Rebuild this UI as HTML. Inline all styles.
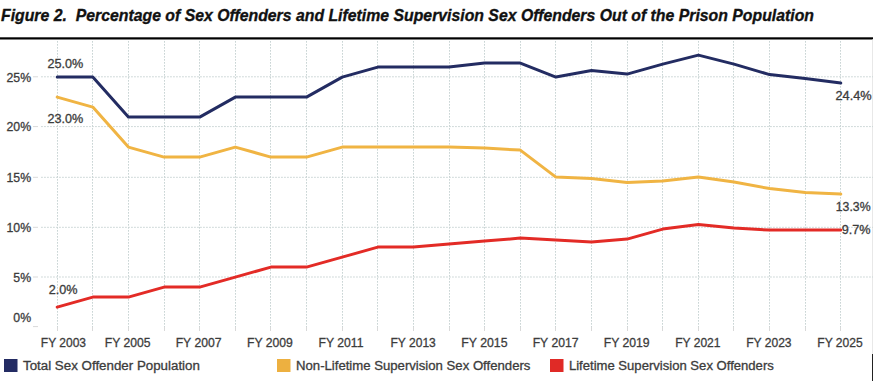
<!DOCTYPE html>
<html><head><meta charset="utf-8"><style>
html,body{margin:0;padding:0;background:#fff;}
body{width:873px;height:381px;overflow:hidden;position:relative;}
svg{position:absolute;left:0;top:0;}
text{font-family:"Liberation Sans",sans-serif;}
.ti{font-weight:bold;font-style:italic;font-size:17px;fill:#111;stroke:#111;stroke-width:0.35;}
.ax{font-size:12.3px;fill:#3c3c3c;stroke:#3c3c3c;stroke-width:0.3;}
.dl{font-size:12px;fill:#3c3c3c;stroke:#3c3c3c;stroke-width:0.3;}
.lg{font-size:12.5px;fill:#3c3c3c;stroke:#3c3c3c;stroke-width:0.3;}
.g{stroke:#CAD5D5;stroke-width:1;stroke-dasharray:1.7 1.3;}
.t{stroke:#D9D9D9;stroke-width:1;}
.s{fill:none;stroke-width:3;stroke-linejoin:round;stroke-linecap:round;}
</style></head><body>
<svg width="873" height="381" viewBox="0 0 873 381">
<text x="1" y="20.5" textLength="813" lengthAdjust="spacingAndGlyphs" class="ti">Figure 2.&#160; Percentage of Sex Offenders and Lifetime Supervision Sex Offenders Out of the Prison Population</text>
<rect x="0" y="37.3" width="873" height="2.2" fill="#000"/>
<rect x="872" y="39.5" width="1" height="314.5" fill="#E8E8E8"/><rect x="872" y="354" width="1" height="27" fill="#222"/>
<line x1="57.5" y1="41" x2="57.5" y2="327" class="g"/><line x1="57.5" y1="327" x2="57.5" y2="331" class="t"/><line x1="92.5" y1="41" x2="92.5" y2="327" class="g"/><line x1="92.5" y1="327" x2="92.5" y2="331" class="t"/><line x1="128.5" y1="41" x2="128.5" y2="327" class="g"/><line x1="128.5" y1="327" x2="128.5" y2="331" class="t"/><line x1="164.5" y1="41" x2="164.5" y2="327" class="g"/><line x1="164.5" y1="327" x2="164.5" y2="331" class="t"/><line x1="199.5" y1="41" x2="199.5" y2="327" class="g"/><line x1="199.5" y1="327" x2="199.5" y2="331" class="t"/><line x1="235.5" y1="41" x2="235.5" y2="327" class="g"/><line x1="235.5" y1="327" x2="235.5" y2="331" class="t"/><line x1="270.5" y1="41" x2="270.5" y2="327" class="g"/><line x1="270.5" y1="327" x2="270.5" y2="331" class="t"/><line x1="306.5" y1="41" x2="306.5" y2="327" class="g"/><line x1="306.5" y1="327" x2="306.5" y2="331" class="t"/><line x1="342.5" y1="41" x2="342.5" y2="327" class="g"/><line x1="342.5" y1="327" x2="342.5" y2="331" class="t"/><line x1="377.5" y1="41" x2="377.5" y2="327" class="g"/><line x1="377.5" y1="327" x2="377.5" y2="331" class="t"/><line x1="413.5" y1="41" x2="413.5" y2="327" class="g"/><line x1="413.5" y1="327" x2="413.5" y2="331" class="t"/><line x1="449.5" y1="41" x2="449.5" y2="327" class="g"/><line x1="449.5" y1="327" x2="449.5" y2="331" class="t"/><line x1="484.5" y1="41" x2="484.5" y2="327" class="g"/><line x1="484.5" y1="327" x2="484.5" y2="331" class="t"/><line x1="520.5" y1="41" x2="520.5" y2="327" class="g"/><line x1="520.5" y1="327" x2="520.5" y2="331" class="t"/><line x1="555.5" y1="41" x2="555.5" y2="327" class="g"/><line x1="555.5" y1="327" x2="555.5" y2="331" class="t"/><line x1="591.5" y1="41" x2="591.5" y2="327" class="g"/><line x1="591.5" y1="327" x2="591.5" y2="331" class="t"/><line x1="627.5" y1="41" x2="627.5" y2="327" class="g"/><line x1="627.5" y1="327" x2="627.5" y2="331" class="t"/><line x1="662.5" y1="41" x2="662.5" y2="327" class="g"/><line x1="662.5" y1="327" x2="662.5" y2="331" class="t"/><line x1="698.5" y1="41" x2="698.5" y2="327" class="g"/><line x1="698.5" y1="327" x2="698.5" y2="331" class="t"/><line x1="733.5" y1="41" x2="733.5" y2="327" class="g"/><line x1="733.5" y1="327" x2="733.5" y2="331" class="t"/><line x1="769.5" y1="41" x2="769.5" y2="327" class="g"/><line x1="769.5" y1="327" x2="769.5" y2="331" class="t"/><line x1="805.5" y1="41" x2="805.5" y2="327" class="g"/><line x1="805.5" y1="327" x2="805.5" y2="331" class="t"/><line x1="840.5" y1="41" x2="840.5" y2="327" class="g"/><line x1="840.5" y1="327" x2="840.5" y2="331" class="t"/><line x1="41.1" y1="76.8" x2="873" y2="76.8" class="g"/><line x1="33" y1="76.8" x2="38" y2="76.8" class="t"/><line x1="41.1" y1="126.6" x2="873" y2="126.6" class="g"/><line x1="33" y1="126.6" x2="38" y2="126.6" class="t"/><line x1="41.1" y1="177.3" x2="873" y2="177.3" class="g"/><line x1="33" y1="177.3" x2="38" y2="177.3" class="t"/><line x1="41.1" y1="227.3" x2="873" y2="227.3" class="g"/><line x1="33" y1="227.3" x2="38" y2="227.3" class="t"/><line x1="41.1" y1="277.0" x2="873" y2="277.0" class="g"/><line x1="33" y1="277.0" x2="38" y2="277.0" class="t"/><line x1="33" y1="326.6" x2="38" y2="326.6" class="t"/>
<text x="31.1" y="81.6" text-anchor="end" class="ax">25%</text><text x="31.1" y="131.4" text-anchor="end" class="ax">20%</text><text x="31.1" y="182" text-anchor="end" class="ax">15%</text><text x="31.1" y="232.1" text-anchor="end" class="ax">10%</text><text x="31.1" y="281.7" text-anchor="end" class="ax">5%</text><text x="31.1" y="321.6" text-anchor="end" class="ax">0%</text>
<text x="40.8" y="347.1" textLength="45.2" lengthAdjust="spacingAndGlyphs" class="ax">FY 2003</text><text x="104.8" y="347.1" textLength="45.7" lengthAdjust="spacingAndGlyphs" class="ax">FY 2005</text><text x="175.7" y="347.1" textLength="45.8" lengthAdjust="spacingAndGlyphs" class="ax">FY 2007</text><text x="247.1" y="347.1" textLength="45.8" lengthAdjust="spacingAndGlyphs" class="ax">FY 2009</text><text x="318.6" y="347.1" textLength="44.9" lengthAdjust="spacingAndGlyphs" class="ax">FY 2011</text><text x="390.5" y="347.1" textLength="45.3" lengthAdjust="spacingAndGlyphs" class="ax">FY 2013</text><text x="461.3" y="347.1" textLength="46.2" lengthAdjust="spacingAndGlyphs" class="ax">FY 2015</text><text x="532.7" y="347.1" textLength="45.8" lengthAdjust="spacingAndGlyphs" class="ax">FY 2017</text><text x="603.7" y="347.1" textLength="45.9" lengthAdjust="spacingAndGlyphs" class="ax">FY 2019</text><text x="675.2" y="347.1" textLength="45.3" lengthAdjust="spacingAndGlyphs" class="ax">FY 2021</text><text x="746.2" y="347.1" textLength="45.4" lengthAdjust="spacingAndGlyphs" class="ax">FY 2023</text><text x="817.3" y="347.1" textLength="45.4" lengthAdjust="spacingAndGlyphs" class="ax">FY 2025</text>
<polyline class="s" stroke="#F0B443" points="57.2,97.1 92.8,107.1 128.4,147.1 164.1,157.1 199.7,157.1 235.3,147.1 270.9,157.1 306.5,157.1 342.2,147.1 377.8,147.1 413.4,147.1 449.0,147.1 484.6,148.1 520.3,150.1 555.9,177.1 591.5,178.6 627.1,182.6 662.7,181.1 698.4,177.1 734.0,182.1 769.6,188.6 805.2,192.6 840.8,194.1"/>
<polyline class="s" stroke="#E32B26" points="57.2,307.1 92.8,297.1 128.4,297.1 164.1,287.1 199.7,287.1 235.3,277.1 270.9,267.1 306.5,267.1 342.2,257.1 377.8,247.1 413.4,247.1 449.0,244.1 484.6,241.1 520.3,238.1 555.9,240.1 591.5,242.1 627.1,239.1 662.7,229.1 698.4,224.6 734.0,228.1 769.6,230.1 805.2,230.1 840.8,230.1"/>
<polyline class="s" stroke="#232C62" points="57.2,77.1 92.8,77.1 128.4,117.1 164.1,117.1 199.7,117.1 235.3,97.1 270.9,97.1 306.5,97.1 342.2,77.1 377.8,67.1 413.4,67.1 449.0,67.1 484.6,63.1 520.3,63.1 555.9,77.1 591.5,70.6 627.1,74.1 662.7,64.1 698.4,55.1 734.0,64.1 769.6,74.6 805.2,78.6 840.8,83.1"/>
<text x="47.5" y="68" textLength="35.8" lengthAdjust="spacingAndGlyphs" class="dl">25.0%</text><text x="47.5" y="122.5" textLength="35.8" lengthAdjust="spacingAndGlyphs" class="dl">23.0%</text><text x="48.7" y="293.8" textLength="28.8" lengthAdjust="spacingAndGlyphs" class="dl">2.0%</text><text x="835.5" y="100.3" textLength="36.2" lengthAdjust="spacingAndGlyphs" class="dl">24.4%</text><text x="835.8" y="211.25" textLength="34.8" lengthAdjust="spacingAndGlyphs" class="dl">13.3%</text><text x="841.8" y="233.6" textLength="28.8" lengthAdjust="spacingAndGlyphs" class="dl">9.7%</text>
<rect x="4" y="359" width="13.5" height="13" fill="#232B63"/><text x="23" y="370.4" textLength="176.9" lengthAdjust="spacingAndGlyphs" class="lg">Total Sex Offender Population</text><rect x="277" y="359" width="13.5" height="13" fill="#EDB040"/><text x="296" y="370.4" textLength="234.4" lengthAdjust="spacingAndGlyphs" class="lg">Non-Lifetime Supervision Sex Offenders</text><rect x="550" y="359" width="13.5" height="13" fill="#E02A26"/><text x="568.9" y="370.4" textLength="204.9" lengthAdjust="spacingAndGlyphs" class="lg">Lifetime Supervision Sex Offenders</text>
</svg>
</body></html>
